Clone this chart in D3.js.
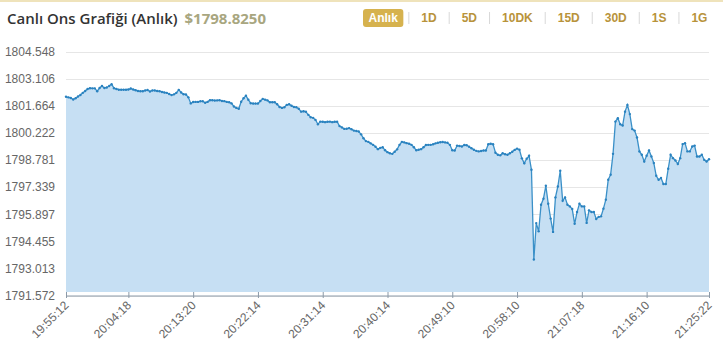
<!DOCTYPE html>
<html>
<head>
<meta charset="utf-8">
<script src="https://cdn.jsdelivr.net/npm/d3@7"></script>
<style>
  body { margin: 0; background: #fff; }
  svg { display: block; }
</style>
</head>
<body>
<div id="chart"></div>
<script>
// data - price per sample
var prices = [
  1802.16, 1802.13, 1802.10, 1802.02, 1802.08, 1802.18, 1802.26, 1802.37, 1802.47, 1802.58,
  1802.62, 1802.61, 1802.61, 1802.46, 1802.63, 1802.74, 1802.63, 1802.66, 1802.74, 1802.83,
  1802.62, 1802.58, 1802.54, 1802.54, 1802.54, 1802.54, 1802.55, 1802.60, 1802.55, 1802.51,
  1802.47, 1802.46, 1802.46, 1802.50, 1802.52, 1802.44, 1802.50, 1802.50, 1802.47, 1802.46,
  1802.42, 1802.39, 1802.37, 1802.31, 1802.25, 1802.29, 1802.37, 1802.53, 1802.39, 1802.30,
  1802.28, 1802.13, 1801.81, 1801.88, 1801.89, 1801.89, 1801.92, 1801.92, 1801.84, 1801.89,
  1801.98, 1801.98, 1801.96, 1801.97, 1801.98, 1801.94, 1801.93, 1801.89, 1801.87, 1801.81,
  1801.64, 1801.57, 1801.52, 1801.90, 1802.08, 1802.22, 1802.00, 1801.82, 1801.80, 1801.80,
  1801.80, 1801.94, 1802.05, 1802.01, 1801.97, 1801.87, 1801.87, 1801.87, 1801.76, 1801.62,
  1801.57, 1801.60, 1801.73, 1801.76, 1801.68, 1801.62, 1801.60, 1801.52, 1801.37, 1801.39,
  1801.36, 1801.20, 1801.07, 1801.04, 1800.93, 1800.70, 1800.84, 1800.83, 1800.81, 1800.83,
  1800.84, 1800.81, 1800.83, 1800.83, 1800.60, 1800.53, 1800.45, 1800.46, 1800.49, 1800.43,
  1800.36, 1800.34, 1800.31, 1800.16, 1799.95, 1799.80, 1799.76, 1799.68, 1799.60, 1799.50,
  1799.37, 1799.44, 1799.47, 1799.31, 1799.21, 1799.15, 1799.12, 1799.23, 1799.36, 1799.60,
  1799.76, 1799.73, 1799.69, 1799.66, 1799.60, 1799.47, 1799.31, 1799.34, 1799.37, 1799.47,
  1799.59, 1799.60, 1799.60, 1799.63, 1799.68, 1799.71, 1799.74, 1799.75, 1799.73, 1799.71,
  1799.60, 1799.31, 1799.30, 1799.56, 1799.54, 1799.51, 1799.59, 1799.58, 1799.50, 1799.42,
  1799.34, 1799.28, 1799.25, 1799.27, 1799.30, 1799.30, 1799.63, 1799.66, 1799.63, 1799.18,
  1799.07, 1799.04, 1799.15, 1799.10, 1799.07, 1799.15, 1799.23, 1799.33, 1799.40, 1799.34,
  1798.88, 1798.62, 1798.86, 1799.02, 1798.27, 1793.49, 1795.43, 1794.99, 1796.41, 1796.73,
  1797.42, 1796.46, 1795.67, 1794.96, 1796.80, 1797.38, 1798.22, 1796.62, 1796.80, 1796.41,
  1796.32, 1796.18, 1795.39, 1796.02, 1796.46, 1796.32, 1796.32, 1795.44, 1796.11, 1796.02,
  1796.02, 1795.65, 1795.76, 1795.79, 1796.20, 1796.68, 1797.74, 1798.01, 1799.12, 1800.84,
  1801.02, 1800.70, 1800.63, 1801.37, 1801.73, 1801.24, 1800.44, 1800.36, 1799.99, 1799.25,
  1799.07, 1798.71, 1799.02, 1799.30, 1798.98, 1798.63, 1797.95, 1797.74, 1797.83, 1797.51,
  1797.51, 1798.33, 1799.07, 1798.89, 1798.77, 1798.58, 1798.89, 1799.64, 1799.69, 1799.25,
  1799.25, 1799.51, 1799.56, 1798.98, 1798.98, 1799.07, 1798.80, 1798.71, 1798.83
];
var tickIdx = [0, 26, 53, 80, 107, 134, 161, 188, 215, 242, 268];
var tickTimes = ["19:55:12", "20:04:18", "20:13:20", "20:22:14", "20:31:14", "20:40:14",
                 "20:49:10", "20:58:10", "21:07:18", "21:16:10", "21:25:22"];
var yTicks = [1791.572, 1793.013, 1794.455, 1795.897, 1797.339, 1798.781,
              1800.222, 1801.664, 1803.106, 1804.548];
var periods = ["Anlık", "1D", "5D", "10DK", "15D", "30D", "1S", "1G"];
var titleText = "Canlı Ons Grafiği (Anlık)";
var lastPrice = "$1798.8250";

var W = 723, H = 362;
// note: "top" is taken by window.top, so use other names
var plotL = 66, plotR = 709, plotT = 52, plotB = 295.5;

var svg = d3.select("#chart").append("svg")
    .attr("width", W).attr("height", H);

// thin top border
svg.append("rect").attr("x", 0).attr("y", 0).attr("width", W).attr("height", 2)
    .attr("fill", "#efe3bb");

// header
var ttl = svg.append("text").attr("x", 7).attr("y", 24)
    .style("font-family", "'Open Sans', sans-serif").style("font-size", "15px")
    .style("font-weight", 600).attr("fill", "#333").text(titleText);
var tw = ttl.node().getComputedTextLength();
svg.append("text").attr("x", 7 + tw + 7).attr("y", 24)
    .style("font-family", "'Open Sans', sans-serif").style("font-size", "15px")
    .style("font-weight", "bold").attr("fill", "#a8a680").text(lastPrice);

// period buttons
var btns = svg.append("g")
    .style("font-family", "'Liberation Sans', Arial, sans-serif")
    .style("font-size", "12px").style("font-weight", "bold");
var cx = 363;
periods.forEach(function(p, i) {
  if (i == 0) {
    var t = btns.append("text").attr("fill", "#fff").attr("y", 22).text(p);
    var w = t.node().getComputedTextLength();
    btns.insert("rect", "text").attr("x", cx).attr("y", 9).attr("width", w + 11)
        .attr("height", 18).attr("rx", 3).attr("fill", "#d6b24e");
    t.attr("x", cx + 5.5);
    cx = cx + w + 11 + 5;
  } else {
    btns.append("line").attr("x1", cx + 0.5).attr("x2", cx + 0.5).attr("y1", 12).attr("y2", 24)
        .attr("stroke", "#d8d8d8");
    cx += 13;
    var t2 = btns.append("text").attr("fill", "#b8933b").attr("x", cx).attr("y", 22).text(p);
    cx += t2.node().getComputedTextLength() + 12;
  }
});

var x = d3.scaleLinear().domain([0, prices.length - 1]).range([plotL, plotR]);
var y = d3.scaleLinear().domain([yTicks[0], yTicks[yTicks.length - 1]]).range([plotB, plotT]);

// grid
svg.append("g").selectAll("line").data(yTicks).enter().append("line")
    .attr("x1", plotL).attr("x2", plotR)
    .attr("y1", function(d) { return Math.round(y(d)) + 0.5; })
    .attr("y2", function(d) { return Math.round(y(d)) + 0.5; })
    .attr("stroke", "#e6e6e6");

// y labels
svg.append("g").selectAll("text").data(yTicks).enter().append("text")
    .attr("x", 55).attr("y", function(d) { return y(d); }).attr("dy", "0.35em")
    .attr("text-anchor", "end")
    .style("font-family", "'Liberation Sans', Arial, sans-serif").style("font-size", "12px")
    .attr("fill", "#666")
    .text(function(d) { return d3.format(".3f")(d); });

// area + line
var area = d3.area()
    .x(function(d, i) { return x(i); })
    .y0(plotB - 3.5)
    .y1(function(d) { return y(d); });
svg.append("path").datum(prices).attr("d", area).attr("fill", "#c6dff3");

var line = d3.line()
    .x(function(d, i) { return x(i); })
    .y(function(d) { return y(d); });
svg.append("path").datum(prices).attr("d", line)
    .attr("fill", "none").attr("stroke", "#3a90c8").attr("stroke-width", 1.3);

svg.append("g").selectAll("circle").data(prices).enter().append("circle")
    .attr("cx", function(d, i) { return x(i); })
    .attr("cy", function(d) { return y(d); })
    .attr("r", 1.2).attr("fill", "#2a82bf");

// x axis
var xAxis = d3.axisBottom(x).tickValues(tickIdx)
    .tickFormat(function(d, i) { return tickTimes[i]; })
    .tickSizeInner(6).tickSizeOuter(0);
var gx = svg.append("g").attr("transform", "translate(0," + (plotB - 3.5) + ")").call(xAxis);
gx.select(".domain").attr("stroke", "#8c9aa8").attr("transform", "translate(0,3.5)");
gx.selectAll(".tick line").attr("stroke", "#8c9aa8");
gx.selectAll(".tick text")
    .attr("x", 0).attr("y", 0).attr("dy", 0)
    .attr("text-anchor", "end")
    .attr("transform", "translate(3,14) rotate(-45)")
    .style("font-family", "'Liberation Sans', Arial, sans-serif").style("font-size", "12px")
    .attr("fill", "#666");
</script>
</body>
</html>
